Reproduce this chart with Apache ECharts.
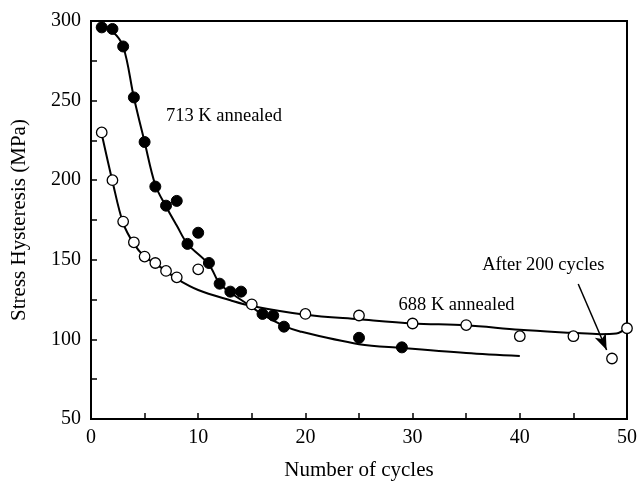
<!DOCTYPE html>
<html>
<head>
<meta charset="utf-8">
<script src="https://cdn.jsdelivr.net/npm/echarts@6/dist/echarts.min.js"></script>
<style>
  html, body { margin: 0; padding: 0; background: #fff; }
  #chart { width: 640px; height: 486px; }
</style>
</head>
<body>
<div id="chart"></div>
<script>
// Measured stress hysteresis, 713 K annealed sample (filled circles)
const cycles713 = [1, 2, 3, 4, 5, 6, 7, 8, 9, 10, 11, 12, 13, 14, 16, 17, 18, 25, 29];
const stress713 = [296, 295, 284, 252, 224, 196, 184, 187, 160, 167, 148, 135, 130, 130, 116, 115, 108, 101, 95];

// Measured stress hysteresis, 688 K annealed sample (open circles)
const cycles688 = [1, 2, 3, 4, 5, 6, 7, 8, 10, 15, 20, 25, 30, 35, 40, 45, 48.6, 50];
const stress688 = [230, 200, 174, 161, 152, 148, 143, 139, 144, 122, 116, 115, 110, 109, 102, 102, 88, 107];

// Fitted trend curves drawn through each data set
const fitX713 = [1, 2, 3, 4, 5, 6, 7, 8, 9, 11, 12, 13, 15, 16, 18, 19.5, 25, 29, 35, 40];
const fitY713 = [296, 293.4, 284, 252, 224, 197, 183.5, 171.5, 160, 147, 135, 129.5, 120.3, 115.5, 108.5, 105, 97, 94.6, 91.5, 89.6];
const fitX688 = [1, 2, 3, 4, 5, 6, 7, 8, 10, 13, 15, 20, 25, 30, 35, 40, 45, 47.5, 49, 50];
const fitY688 = [229, 199.4, 173, 160, 152, 147.6, 143, 138, 131, 124.6, 121, 115.5, 112.6, 110, 108.9, 106, 104.1, 103.3, 103.7, 107.4];

// Annotation texts and the arrow pointing at the 200-cycle point
const noteTexts = ['713 K annealed', '688 K annealed', 'After 200 cycles'];
const noteX = [12.4, 34.1, 42.2];
const noteY = [240.3, 121.5, 146.4];
const arrowFrom = [45.45, 134.8];
const arrowTo = [48.1, 93.3];

const xTicks = [0, 10, 20, 30, 40, 50];
const yTicks = [50, 100, 150, 200, 250, 300];

const zip = (xs, ys) => xs.map((x, i) => [x, ys[i]]);
const FONT = "'Liberation Serif', 'Times New Roman', serif";

const chart = echarts.init(document.getElementById('chart'), null, { renderer: 'canvas' });

chart.setOption({
  animation: false,
  backgroundColor: '#fff',
  grid: {
    left: 91, right: 13, top: 21, bottom: 63,
    show: true, borderColor: '#000', borderWidth: 2, backgroundColor: 'transparent'
  },
  xAxis: {
    type: 'value', min: 0, max: 50, interval: 5,
    name: 'Number of cycles', nameLocation: 'middle', nameGap: 41,
    nameTextStyle: { fontFamily: FONT, fontSize: 21, color: '#000' },
    axisLine: { show: true, lineStyle: { color: '#000', width: 2 } },
    axisTick: { show: true, inside: true, length: 6, lineStyle: { color: '#000', width: 1.5 } },
    axisLabel: {
      fontFamily: FONT, fontSize: 20, color: '#000', margin: 9,
      formatter: v => (xTicks.includes(v) ? String(v) : '')
    },
    splitLine: { show: false }
  },
  yAxis: {
    type: 'value', min: 50, max: 300, interval: 25,
    name: 'Stress Hysteresis (MPa)', nameLocation: 'middle', nameGap: 61,
    nameTextStyle: { fontFamily: FONT, fontSize: 21, color: '#000' },
    axisLine: { show: true, lineStyle: { color: '#000', width: 2 } },
    axisTick: { show: true, inside: true, length: 6, lineStyle: { color: '#000', width: 1.5 } },
    axisLabel: {
      fontFamily: FONT, fontSize: 20, color: '#000', margin: 10,
      formatter: v => (yTicks.includes(v) ? String(v) : '')
    },
    splitLine: { show: false }
  },
  series: [
    {
      name: 'fit713', type: 'line', data: zip(fitX713, fitY713),
      smooth: 0.35, showSymbol: false, silent: true,
      lineStyle: { color: '#000', width: 2 }, z: 2
    },
    {
      name: 'fit688', type: 'line', data: zip(fitX688, fitY688),
      smooth: 0.35, showSymbol: false, silent: true,
      lineStyle: { color: '#000', width: 2 }, z: 2,
      markLine: {
        silent: true, symbol: ['none', 'arrow'], symbolSize: [9, 16],
        label: { show: false },
        lineStyle: { color: '#000', width: 1.5, type: 'solid', opacity: 1 },
        data: [[{ coord: arrowFrom }, { coord: arrowTo }]]
      }
    },
    {
      name: '713 K annealed', type: 'scatter', data: zip(cycles713, stress713),
      symbol: 'circle', symbolSize: 11,
      itemStyle: { color: '#000', borderColor: '#000', borderWidth: 1, opacity: 1 }, z: 4
    },
    {
      name: '688 K annealed', type: 'scatter', data: zip(cycles688, stress688),
      symbol: 'circle', symbolSize: 10.5,
      itemStyle: { color: '#fff', borderColor: '#000', borderWidth: 1.3, opacity: 1 }, z: 4
    },
    {
      name: 'notes', type: 'scatter', symbolSize: 0, silent: true,
      itemStyle: { opacity: 1 },
      data: noteTexts.map((t, i) => ({ value: [noteX[i], noteY[i]], name: t })),
      label: {
        show: true, position: 'inside', formatter: p => p.name,
        fontFamily: FONT, fontSize: 18.5, color: '#000', opacity: 1
      },
      z: 5
    }
  ]
});
</script>
</body>
</html>
